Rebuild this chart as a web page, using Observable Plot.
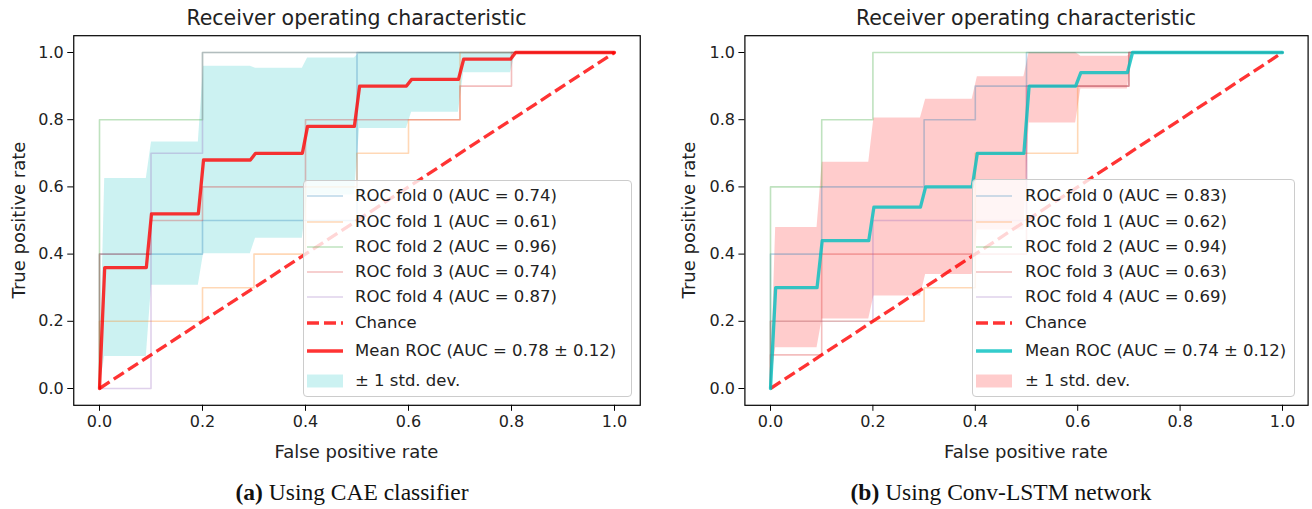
<!DOCTYPE html>
<html><head><meta charset="utf-8">
<script src="https://cdn.jsdelivr.net/npm/d3@7"></script>
<script src="https://cdn.jsdelivr.net/npm/@observablehq/plot@0.6"></script>
<style>
body{margin:0;background:#fff;}
#root{position:relative;width:1312px;height:509px;overflow:hidden;font-family:"DejaVu Sans",sans-serif;color:#222;}
.abs{position:absolute;white-space:nowrap;}
.title{font-size:20.5px;}
.alab{font-size:18px;}
.cap{font-family:"Liberation Serif",serif;font-size:23.5px;color:#111;}
.leg{position:absolute;background:rgba(255,255,255,0.8);border:1px solid #cccccc;border-radius:4px;box-sizing:border-box;}
.lt{position:absolute;font-size:16.5px;transform:translateY(-50%);white-space:nowrap;}
.lh{position:absolute;transform:translateY(-50%);}
</style></head><body><div id="root"></div>
<script>
// ---------- data ----------
const foldColors = ["#1f77b4", "#ff7f0e", "#2ca02c", "#d62728", "#9467bd"];
const ticks = [0, 0.2, 0.4, 0.6, 0.8, 1.0];
const titleText = "Receiver operating characteristic";
const xLabel = "False positive rate";
const yLabel = "True positive rate";

// Panel (a) CAE classifier: fold ROC curves
const a0Fpr = [0, 0, 0.2, 0.2, 0.5, 0.5, 1];
const a0Tpr = [0, 0.4, 0.4, 0.5, 0.5, 1, 1];
const a1Fpr = [0, 0, 0.2, 0.2, 0.3, 0.3, 0.4, 0.4, 0.5, 0.5, 0.6, 0.6, 0.7, 0.7, 1];
const a1Tpr = [0, 0.2, 0.2, 0.3, 0.3, 0.4, 0.4, 0.6, 0.6, 0.7, 0.7, 0.8, 0.8, 1, 1];
const a2Fpr = [0, 0, 0.2, 0.2, 1];
const a2Tpr = [0, 0.8, 0.8, 1, 1];
const a3Fpr = [0, 0, 0.1, 0.1, 0.2, 0.2, 0.4, 0.4, 0.7, 0.7, 0.8, 0.8, 1];
const a3Tpr = [0, 0.4, 0.4, 0.5, 0.5, 0.6, 0.6, 0.8, 0.8, 0.9, 0.9, 1, 1];
const a4Fpr = [0, 0.1, 0.1, 0.2, 0.2, 1];
const a4Tpr = [0, 0, 0.7, 0.7, 1, 1];
const aucA = ["0.74", "0.61", "0.96", "0.74", "0.87"];
const meanAucA = "0.78 \u00b1 0.12";

// Panel (b) Conv-LSTM: fold ROC curves
const b0Fpr = [0, 0, 0.1, 0.1, 0.3, 0.3, 0.4, 0.4, 0.5, 0.5, 1];
const b0Tpr = [0, 0.4, 0.4, 0.6, 0.6, 0.8, 0.8, 0.9, 0.9, 1, 1];
const b1Fpr = [0, 0, 0.3, 0.3, 0.4, 0.4, 0.6, 0.6, 0.7, 0.7, 1];
const b1Tpr = [0, 0.2, 0.2, 0.3, 0.3, 0.7, 0.7, 0.9, 0.9, 1, 1];
const b2Fpr = [0, 0, 0.1, 0.1, 0.2, 0.2, 1];
const b2Tpr = [0, 0.6, 0.6, 0.8, 0.8, 1, 1];
const b3Fpr = [0, 0, 0.1, 0.1, 0.5, 0.5, 0.7, 0.7, 1];
const b3Tpr = [0, 0.1, 0.1, 0.4, 0.4, 0.9, 0.9, 1, 1];
const b4Fpr = [0, 0, 0.2, 0.2, 0.5, 0.5, 0.7, 0.7, 1];
const b4Tpr = [0, 0.2, 0.2, 0.5, 0.5, 0.9, 0.9, 1, 1];
const aucB = ["0.83", "0.62", "0.94", "0.63", "0.69"];
const meanAucB = "0.74 \u00b1 0.12";

// Mean ROC and ±1 std band
const meanFpr = [0, 0.0101, 0.0909, 0.1010, 0.1919, 0.2020, 0.2929, 0.3030, 0.3939, 0.4040, 0.4949, 0.5051, 0.5960, 0.6061, 0.6970, 0.7071, 0.7980, 0.8081, 1.0];
const meanTprA = [0, 0.36, 0.36, 0.52, 0.52, 0.68, 0.68, 0.70, 0.70, 0.78, 0.78, 0.90, 0.90, 0.92, 0.92, 0.98, 0.98, 1.0, 1.0];
const upperA   = [0, 0.625, 0.625, 0.734, 0.734, 0.959, 0.959, 0.953, 0.953, 0.984, 0.984, 1, 1, 1, 1, 1, 1, 1, 1];
const lowerA   = [0, 0.095, 0.095, 0.307, 0.307, 0.401, 0.401, 0.447, 0.447, 0.576, 0.576, 0.774, 0.774, 0.822, 0.822, 0.94, 0.94, 1, 1];
const meanTprB = [0, 0.30, 0.30, 0.44, 0.44, 0.54, 0.54, 0.60, 0.60, 0.70, 0.70, 0.90, 0.90, 0.94, 0.94, 1.0, 1.0, 1.0, 1.0];
const upperB   = [0, 0.479, 0.479, 0.673, 0.673, 0.805, 0.805, 0.861, 0.861, 0.928, 0.928, 1, 1, 0.989, 0.989, 1, 1, 1, 1];
const lowerB   = [0, 0.121, 0.121, 0.207, 0.207, 0.275, 0.275, 0.339, 0.339, 0.472, 0.472, 0.790, 0.790, 0.891, 0.891, 1, 1, 1, 1];
const chanceFpr = [0, 1];
const chanceTpr = [0, 1];

// ---------- drawing ----------
const root = document.getElementById("root");
function pairs(xs, ys) { return xs.map((x, i) => [x, ys[i]]); }

function panel(folds, meanTpr, upper, lower, meanColor, bandColor, ml, mr) {
  const band = meanFpr.map((x, i) => ({x, y1: lower[i], y2: upper[i], y: meanTpr[i]}));
  return Plot.plot({
    width: 656, height: 470,
    marginLeft: ml, marginRight: mr, marginTop: 35.2, marginBottom: 65.2,
    x: {domain: [-0.05, 1.05]},
    y: {domain: [-0.05, 1.05]},
    style: {fontFamily: "DejaVu Sans", fontSize: "16px", color: "#222", background: "transparent", overflow: "visible"},
    marks: [
      Plot.areaY(band, {x: "x", y1: "y1", y2: "y2", fill: bandColor, fillOpacity: 0.2}),
      ...folds.map((f, i) => Plot.line(pairs(f[0], f[1]), {stroke: foldColors[i], strokeOpacity: 0.3, strokeWidth: 1.6})),
      Plot.line(pairs(chanceFpr, chanceTpr), {stroke: "red", strokeOpacity: 0.8, strokeWidth: 3.3, strokeDasharray: "12,5", strokeLinecap: "butt"}),
      Plot.line(band, {x: "x", y: "y", stroke: meanColor, strokeOpacity: 0.8, strokeWidth: 3.3}),
      Plot.frame({stroke: "#000", strokeWidth: 1.2}),
      Plot.axisX({ticks, tickFormat: ".1f", tickSize: 6, tickPadding: 4, label: null, stroke: "#000"}),
      Plot.axisY({ticks, tickFormat: ".1f", tickSize: 6, tickPadding: 4, label: null, stroke: "#000"})
    ]
  });
}

function place(el, left, top) {
  el.style.position = "absolute"; el.style.left = left + "px"; el.style.top = top + "px";
  root.appendChild(el);
}
function text(str, cls, cx, cy, rotate) {
  const d = document.createElement("div");
  d.className = "abs " + cls;
  d.textContent = str;
  d.style.left = cx + "px"; d.style.top = cy + "px";
  d.style.transform = "translate(-50%,-50%)" + (rotate ? " rotate(-90deg)" : "");
  root.appendChild(d);
  return d;
}

const NS = "http://www.w3.org/2000/svg";
function handle(kind, color) {
  const s = document.createElementNS(NS, "svg");
  s.setAttribute("width", 36); s.setAttribute("height", 14);
  if (kind === "rect") {
    const r = document.createElementNS(NS, "rect");
    r.setAttribute("x", 0); r.setAttribute("y", 0.5); r.setAttribute("width", 36); r.setAttribute("height", 13);
    r.setAttribute("fill", color); r.setAttribute("fill-opacity", 0.2);
    s.appendChild(r);
  } else {
    const l = document.createElementNS(NS, "line");
    l.setAttribute("x1", 0); l.setAttribute("x2", 36); l.setAttribute("y1", 7); l.setAttribute("y2", 7);
    l.setAttribute("stroke", color);
    if (kind === "fold") { l.setAttribute("stroke-width", 1.6); l.setAttribute("stroke-opacity", 0.3); }
    else { l.setAttribute("stroke-width", 3.3); l.setAttribute("stroke-opacity", 0.8); }
    if (kind === "dash") l.setAttribute("stroke-dasharray", "12,5");
    s.appendChild(l);
  }
  return s;
}

const rowY = [195, 220.5, 246, 270.5, 295.5, 321.5, 350, 380];
function legend(boxL, boxT, boxW, boxH, hx, tx, aucs, meanAuc, meanColor, bandColor) {
  const box = document.createElement("div");
  box.className = "leg";
  box.style.left = boxL + "px"; box.style.top = boxT + "px";
  box.style.width = boxW + "px"; box.style.height = boxH + "px";
  root.appendChild(box);
  const items = aucs.map((a, i) => ({label: `ROC fold ${i} (AUC = ${a})`, h: handle("fold", foldColors[i])}));
  items.push({label: "Chance", h: handle("dash", "red")});
  items.push({label: `Mean ROC (AUC = ${meanAuc})`, h: handle("solid", meanColor)});
  items.push({label: "\u00b1 1 std. dev.", h: handle("rect", bandColor)});
  items.forEach((it, i) => {
    const hd = document.createElement("div");
    hd.className = "lh"; hd.style.left = hx + "px"; hd.style.top = rowY[i] + "px"; hd.style.height = "14px";
    hd.appendChild(it.h); root.appendChild(hd);
    const t = document.createElement("div");
    t.className = "lt"; t.textContent = it.label;
    t.style.left = tx + "px"; t.style.top = rowY[i] + "px";
    root.appendChild(t);
  });
}

const foldsA = [[a0Fpr, a0Tpr], [a1Fpr, a1Tpr], [a2Fpr, a2Tpr], [a3Fpr, a3Tpr], [a4Fpr, a4Tpr]];
const foldsB = [[b0Fpr, b0Tpr], [b1Fpr, b1Tpr], [b2Fpr, b2Tpr], [b3Fpr, b3Tpr], [b4Fpr, b4Tpr]];

place(panel(foldsA, meanTprA, upperA, lowerA, "red", "#00bfbf", 73.25, 16.25), 0, 0);
place(panel(foldsB, meanTprB, upperB, lowerB, "#00bfbf", "red", 88.4, 4.4), 656, 0);

legend(303, 180, 329, 217, 307, 355, aucA, meanAucA, "red", "#00bfbf");
legend(972, 179, 323, 218, 976, 1025, aucB, meanAucB, "#00bfbf", "red");

text(titleText, "title", 356.5, 18);
text(titleText, "title", 1026, 18);
text(xLabel, "alab", 356.5, 451);
text(xLabel, "alab", 1026, 451);
text(yLabel, "alab", 18, 220, true);
text(yLabel, "alab", 688, 220, true);

function caption(letter, rest, cx, cy) {
  const d = document.createElement("div");
  d.className = "abs cap";
  d.innerHTML = `<b>(${letter})</b> ${rest}`;
  d.style.left = cx + "px"; d.style.top = cy + "px";
  d.style.transform = "translate(-50%,-50%)";
  root.appendChild(d);
}
caption("a", "Using CAE classifier", 352, 492);
caption("b", "Using Conv-LSTM network", 1001, 492);
</script>
</body></html>
